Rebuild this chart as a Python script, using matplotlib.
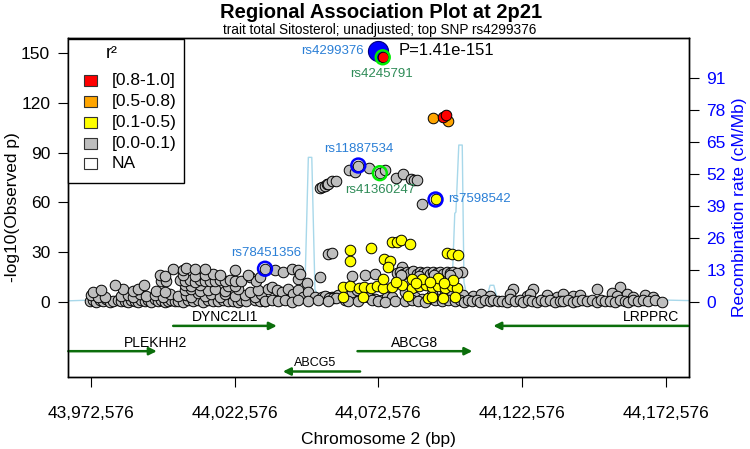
import numpy as np
import matplotlib
matplotlib.use('Agg')
import matplotlib.pyplot as plt
from matplotlib.patches import Rectangle

plt.rcParams['font.family'] = ['Liberation Sans', 'DejaVu Sans']

# top SNP and plotted window (bp)
TOP_BP = 44072576
X_RANGE = (43964576, 44180576)
Y_RANGE = (-44.5, 158.6)
RECOMB_RANGE = (-30.2, 107.0)

x_ticks = [43972576, 44022576, 44072576, 44122576, 44172576]
y_ticks = [0, 30, 60, 90, 120, 150]
recomb_ticks = [0, 13, 26, 39, 52, 65, 78, 91]

# SNPs: (distance from top SNP in kb, -log10 p)
grey_snps = np.array([
    (-100.6, 0.8), (-99.4, 1.6), (-98.2, 0.5), (-97.1, 1.2), (-95.9, 0.7), (-94.7, 1.9),
    (-93.6, 0.4), (-92.4, 1.0), (-90.7, 1.5), (-89.5, 0.6), (-88.4, 1.1), (-87.2, 0.3),
    (-86.0, 1.7), (-84.9, 0.9), (-83.7, 0.5), (-82.6, 1.4), (-81.4, 0.8), (-80.2, 1.2),
    (-79.1, 0.4), (-77.9, 1.8), (-76.7, 0.7), (-75.6, 1.3), (-74.4, 0.5), (-73.3, 1.0),
    (-72.1, 1.6), (-70.9, 0.6), (-69.8, 1.1), (-68.0, 0.4), (-66.3, 1.5), (-64.6, 0.8),
    (-62.8, 1.2), (-61.1, 0.5), (-59.3, 1.7), (-57.6, 0.9), (-55.8, 0.6), (-54.1, 1.3),
    (-52.4, 0.8), (-50.6, 1.1), (-48.9, 0.5), (-47.7, 1.6), (-46.0, 0.9), (-43.1, 1.2),
    (-41.3, 0.6), (-39.6, 1.0),
    (-100.0, 4.2), (-97.7, 3.5), (-95.3, 3.0), (-89.5, 3.8), (-87.2, 4.5), (-85.5, 3.2),
    (-83.1, 5.0), (-80.8, 3.6), (-77.9, 4.4), (-75.0, 3.1), (-72.7, 5.2), (-69.8, 3.8),
    (-66.9, 4.6), (-65.1, 3.3), (-62.8, 5.4), (-60.5, 3.9), (-58.2, 4.8), (-55.3, 3.4),
    (-53.5, 5.0), (-50.0, 3.6), (-46.6, 4.4), (-43.1, 3.2), (-40.8, 4.9),
    (-99.4, 6.2), (-96.5, 7.2), (-88.9, 7.8), (-85.5, 6.6), (-83.7, 8.0), (-77.3, 7.0),
    (-74.4, 6.4), (-67.5, 7.6), (-65.1, 8.2), (-62.2, 6.8), (-59.3, 7.4), (-57.0, 8.0),
    (-53.5, 6.6), (-48.9, 7.8), (-44.8, 6.4), (-41.9, 7.2),
    (-91.8, 10.6), (-81.6, 10.2), (-67.5, 10.4), (-65.1, 9.8), (-62.2, 10.6), (-52.4, 10.0),
    (-50.0, 9.6),
    (-75.6, 13.0), (-73.8, 12.6), (-69.2, 13.4), (-67.5, 12.8), (-65.7, 13.2), (-64.0, 12.4),
    (-62.2, 13.6), (-60.5, 12.8), (-58.8, 13.0), (-57.0, 12.6), (-55.3, 13.4), (-53.5, 12.8),
    (-51.8, 13.2), (-50.0, 12.6), (-47.7, 13.0), (-44.8, 15.0), (-42.5, 12.8),
    (-76.2, 16.2), (-74.4, 16.0), (-68.0, 16.4), (-64.0, 15.6), (-60.5, 16.2), (-45.4, 16.6),
    (-57.5, 17.2), (-55.2, 16.2), (-41.2, 15.2),
    (-71.5, 20.2), (-68.0, 19.4), (-66.9, 20.4), (-64.0, 19.8), (-60.5, 20.0), (-50.0, 19.2),
    (-39.5, 20.2), (-36.0, 19.2), (-33.1, 18.2), (-30.2, 20.2), (-27.9, 19.2), (-27.9, 14.2),
    (-25.0, 11.8), (-20.3, 15.2), (-27.3, 17.2), (-17.4, 29.2), (-16.3, 29.6),
    (-38.3, 8.2), (-37.2, 9.2), (-35.4, 7.2), (-33.7, 6.2), (-31.4, 8.2), (-29.6, 5.2),
    (-27.9, 7.2), (-26.2, 3.2), (-24.4, 6.2), (-22.1, 3.2), (-19.8, 3.2), (-18.0, 3.2),
    (-16.3, 3.2), (-15.1, 3.2), (-14.0, 4.2), (-11.6, 1.2), (-9.3, 6.2), (-7.6, 7.2),
    (-4.7, 16.2), (-3.5, 3.2), (-1.2, 2.2), (1.1, 1.2), (2.9, 3.2), (4.6, 3.2), (8.1, 21.2),
    (9.3, 6.2), (12.7, 3.2), (15.1, 2.2), (17.4, 2.2), (18.6, 5.2), (20.9, 2.2), (23.2, 5.2),
    (25.5, 4.2), (27.8, 3.2), (29.0, 18.2), (-9.3, 15.8), (-1.2, 17.0),
    (-19.0, 2.6), (-18.5, 3.8), (-17.2, 2.8), (-15.8, 2.4), (-14.6, 2.9),
    (-39.5, 0.6), (-37.2, 1.4), (-34.9, 0.8), (-32.5, 1.6), (-30.2, 0.5), (-27.9, 1.2),
    (-24.4, 0.9), (-20.9, 1.5), (-17.4, 0.7), (-10.5, 1.0), (-7.0, 0.6), (-2.3, 1.3),
    (0.0, 0.8), (2.3, 0.4), (5.8, 1.1), (9.3, 0.6), (11.6, 1.4), (13.9, 0.9), (16.2, 0.5),
    (19.7, 1.2), (22.0, 0.7), (24.4, 1.5), (26.7, 0.6), (29.6, 1.0),
    (6.4, 17.6), (7.6, 18.4), (8.7, 17.2), (9.8, 18.0), (11.0, 17.4), (12.2, 18.6),
    (13.3, 17.0), (14.5, 18.2), (15.6, 17.6), (16.8, 18.4), (18.0, 17.2), (19.1, 18.0),
    (20.3, 17.6), (21.4, 18.4), (22.6, 17.0), (23.8, 18.2), (24.9, 17.6), (26.1, 18.0),
    (27.3, 17.4), (8.0, 16.2), (14.0, 16.0), (19.5, 16.4), (25.0, 16.2),
    (47.0, 8.2), (53.9, 8.2), (76.0, 8.2), (84.1, 9.2),
    (29.6, 4.6), (33.0, 3.8), (35.9, 5.0), (38.9, 4.0), (45.8, 5.2), (51.6, 3.6),
    (52.8, 4.8), (58.6, 4.4), (62.1, 3.4), (64.4, 5.0), (67.9, 3.9), (70.2, 4.6),
    (81.2, 5.4), (83.0, 3.7), (86.5, 4.8), (88.8, 3.5), (92.8, 4.2), (95.7, 3.2),
    (28.4, 1.2), (29.8, 0.5), (31.3, 1.7), (32.5, 0.8), (34.2, 1.3), (35.4, 0.4),
    (37.1, 1.6), (38.9, 0.9), (40.0, 1.4), (41.8, 0.6), (42.9, 1.1), (44.7, 0.3),
    (45.8, 1.8), (47.6, 0.7), (49.3, 1.2), (50.5, 0.5), (52.2, 1.5), (53.4, 0.9),
    (55.1, 0.4), (56.8, 1.3), (58.0, 0.8), (59.7, 1.6), (61.5, 0.5), (63.2, 1.1),
    (64.4, 0.7), (66.1, 1.4), (67.9, 0.3), (69.0, 1.0), (70.8, 1.7), (72.5, 0.6),
    (74.3, 1.2), (76.0, 0.4), (77.7, 1.5), (78.9, 0.8), (80.6, 1.1), (82.4, 0.5),
    (84.1, 1.6), (85.9, 0.9), (87.0, 0.4), (88.8, 1.3), (90.5, 0.7), (92.3, 1.2),
    (94.0, 0.6), (96.3, 1.4), (98.6, 0.5),
    (-20.4, 68.8), (-19.6, 69.6), (-18.6, 70.2), (-17.9, 71.0), (-17.4, 71.2), (-16.3, 72.8),
    (-14.8, 73.2), (-10.1, 79.6), (-8.2, 78.2), (-7.0, 82.2), (-3.3, 80.8), (0.5, 77.6),
    (2.3, 79.6), (6.1, 74.8), (8.4, 77.2), (11.2, 74.2), (12.4, 73.8), (13.5, 73.8),
    (15.1, 59.2),
])

yellow_snps = np.array([
    (-9.9, 31.6), (-9.9, 24.6), (-2.6, 32.8), (4.6, 36.2), (6.4, 36.2), (7.9, 37.2),
    (11.0, 35.2), (2.1, 26.2), (4.0, 24.6), (3.2, 21.2), (23.8, 29.6), (25.5, 29.2),
    (27.6, 28.2),
    (-12.2, 9.0), (-9.9, 9.6), (-6.8, 8.4), (-4.9, 9.2), (-2.6, 8.8), (-0.6, 9.8),
    (1.7, 8.6), (4.8, 9.4), (8.1, 10.2), (11.6, 8.8), (14.1, 9.6), (16.5, 10.4),
    (18.8, 9.0), (20.9, 10.0), (23.2, 8.6), (25.5, 9.8), (27.3, 8.4),
    (-12.2, 3.0), (-5.2, 3.4), (10.4, 3.6), (17.4, 2.8), (18.6, 3.2), (22.6, 2.6), (26.7, 3.0),
    (11.6, 14.2), (15.1, 13.8), (20.9, 14.6), (26.1, 13.6), (1.7, 14.0),
    (13.0, 11.4), (18.0, 12.0), (22.8, 11.6), (6.0, 12.4),
    (19.9, 61.8),
])
orange_snps = np.array([(18.9, 110.8), (24.4, 109.2)])
red_snps = np.array([(22.6, 111.5), (23.4, 112.8), (1.5, 147.2)])
top_snp = (0.0, 150.85)

# highlighted SNPs: name, kb from top, -log10 p, ring colour
blue_ring = ['rs78451356', 'rs11887534', 'rs7598542']
blue_ring_kb = [-39.5, -7.0, 19.9]
blue_ring_p = [20.2, 82.2, 61.8]
green_ring = ['rs4245791', 'rs41360247']
green_ring_kb = [1.5, 0.5]
green_ring_p = [147.2, 77.6]

# recombination rate (cM/Mb)
recomb_kb = [-108, -100, -90, -80, -70, -60, -50, -40, -32, -27, -25.6, -24.4, -23.2, -22.1,
             -20, -10, 0, 10, 20, 25.5, 26.6, 27.0, 28.0, 29.2, 29.8, 31, 37.5, 38.9, 40.2,
             41.5, 50, 60, 70, 80, 90, 100, 108]
recomb_rate = [0.5, 0.8, 0.4, 1.0, 0.6, 0.9, 0.5, 0.7, 0.8, 1.5, 5, 58.7, 58.7, 5,
               1.2, 0.6, 0.3, 0.5, 0.8, 1.5, 36, 36.5, 63.7, 63.7, 8, 1.5, 1.0, 6.8, 6.8,
               0.8, 0.5, 0.7, 0.4, 0.6, 0.5, 0.8, 0.6]

# genes (bp); strand +1 arrow right, -1 arrow left
gene_names = ['DYNC2LI1', 'LRPPRC', 'PLEKHH2', 'ABCG8', 'ABCG5']
gene_start = [44001100, 44112600, 43864431, 44065300, 44039300]
gene_end = [44037200, 44223144, 43995400, 44105300, 44066200]
gene_strand = [1, -1, 1, 1, -1]

legend_labels = ['[0.8-1.0]', '[0.5-0.8)', '[0.1-0.5)', '[0.0-0.1)', 'NA']
legend_colors = ['#FF0000', '#FFA500', '#FFFF00', '#BEBEBE', '#FFFFFF']

BLUE_TXT = '#2A7FD6'
GREEN_TXT = '#2E8B57'
GENE_COL = '#0B6E0B'


def bp(kb):
    return TOP_BP + np.asarray(kb) * 1000.0


def fx(p):
    return p / 750.0


def fy(p):
    return 1 - p / 449.0


fig = plt.figure(figsize=(7.5, 4.49), dpi=100)
ax = fig.add_axes([fx(68.3), fy(376.5), fx(688.5) - fx(68.3), fy(38.3) - fy(376.5)])
ax2 = ax.twinx()
ax.set_zorder(ax2.get_zorder() + 1)
ax.patch.set_visible(False)

# recombination line underneath
ax2.plot(bp(recomb_kb), recomb_rate, color='#A8D8EA', lw=1.0)
ax2.set_ylim(*RECOMB_RANGE)
ax2.set_yticks(recomb_ticks)
ax2.tick_params(axis='y', colors='black', labelcolor='blue', labelsize=12.5,
                length=7, pad=6)
ax2.set_ylabel('Recombination rate (cM/Mb)', color='blue', fontsize=12.5, labelpad=4)

pt = 58
for arr, col in [(grey_snps, '#BEBEBE'), (yellow_snps, '#FFFF00'),
                 (orange_snps, '#FFA500'), (red_snps, '#FF0000')]:
    ax.scatter(bp(arr[:, 0]), arr[:, 1], s=pt, c=col, edgecolors='black',
               linewidths=0.7, zorder=3)

ax.scatter(bp(top_snp[0]), top_snp[1], s=210, c='#0000FF', edgecolors='#000080',
           linewidths=0.8, zorder=4)
ax.scatter(bp(red_snps[-1, 0]), red_snps[-1, 1], s=pt, c='#FF0000', edgecolors='black',
           linewidths=0.7, zorder=5)
ax.scatter(bp(blue_ring_kb), blue_ring_p, s=100, facecolors='none', edgecolors='#0000FF',
           linewidths=1.8, zorder=6)
ax.scatter(bp(green_ring_kb), green_ring_p, s=100, facecolors='none', edgecolors='#00EE00',
           linewidths=1.8, zorder=6)

# SNP labels
lab = dict(fontsize=9.5, zorder=7)
ax.text(bp(-5.0), 150.85, 'rs4299376', color=BLUE_TXT, ha='right', va='center', **lab)
ax.text(bp(7.0), 151.5, 'P=1.41e-151', color='black', ha='left', va='center',
        fontsize=12, zorder=7)
ax.text(bp(1.1), 137.4, 'rs4245791', color=GREEN_TXT, ha='center', va='center', **lab)
ax.text(bp(-6.8), 92.0, 'rs11887534', color=BLUE_TXT, ha='center', va='center', **lab)
ax.text(bp(0.6), 67.3, 'rs41360247', color=GREEN_TXT, ha='center', va='center', **lab)
ax.text(bp(24.2), 62.0, 'rs7598542', color=BLUE_TXT, ha='left', va='center', **lab)
ax.text(bp(-39.1), 29.9, 'rs78451356', color=BLUE_TXT, ha='center', va='center', **lab)

# gene track
gene_row_y = [-14.1, -14.1, -29.3, -29.3, -41.5]
gene_text_y = [-8.8, -8.8, -24.3, -24.3, -36.2]
gene_text_x = [44019200, 44167400, 43995000, 44085300, 44050500]
gene_text_size = [10, 10, 10, 10, 9]
for i, name in enumerate(gene_names):
    s = max(gene_start[i], X_RANGE[0])
    e = min(gene_end[i], X_RANGE[1])
    tail, head = (s, e) if gene_strand[i] > 0 else (e, s)
    ax.annotate('', xy=(head, gene_row_y[i]), xytext=(tail, gene_row_y[i]),
                arrowprops=dict(arrowstyle='-|>', color=GENE_COL, lw=1.8,
                                mutation_scale=11, shrinkA=0, shrinkB=0),
                zorder=2)
    ax.text(gene_text_x[i], gene_text_y[i], name, ha='center', va='center',
            fontsize=gene_text_size[i], color='black')

ax.set_xlim(*X_RANGE)
ax.set_ylim(*Y_RANGE)
ax.set_xticks(x_ticks)
ax.set_xticklabels(['{:,}'.format(t) for t in x_ticks])
ax.set_yticks(y_ticks)
ax.tick_params(axis='both', labelsize=12.5, length=7)
ax.tick_params(axis='x', pad=14)
ax.tick_params(axis='y', pad=6)
ax.set_xlabel('Chromosome 2 (bp)', fontsize=12.5, labelpad=8)
ax.set_ylabel('-log10(Observed p)', fontsize=12.5, labelpad=1)
for a in (ax, ax2):
    for sp in a.spines.values():
        sp.set_linewidth(1.0)

# legend box
fig.patches.append(Rectangle((fx(68.3), fy(183.3)), fx(184.3) - fx(68.3),
                             fy(39) - fy(183.3), transform=fig.transFigure,
                             facecolor='white', edgecolor='black', lw=1.0, zorder=5))
fig.text(fx(112), fy(53), 'r²', ha='center', va='center', fontsize=13, zorder=6)
for i, (lbl, col) in enumerate(zip(legend_labels, legend_colors)):
    yc = 80.7 + i * 20.8
    fig.patches.append(Rectangle((fx(83.5), fy(yc + 5.5)), fx(13), 11 / 449.0,
                                 transform=fig.transFigure, facecolor=col,
                                 edgecolor='#333333', lw=0.8, zorder=6))
    fig.text(fx(112), fy(yc), lbl, ha='left', va='center', fontsize=12.5, zorder=6)

fig.text(fx(381), fy(13), 'Regional Association Plot at 2p21', ha='center', va='center',
         fontsize=14.5, fontweight='bold')
fig.text(fx(380), fy(30), 'trait total Sitosterol; unadjusted; top SNP rs4299376',
         ha='center', va='center', fontsize=9.8)

fig.savefig('out.png', dpi=100)
